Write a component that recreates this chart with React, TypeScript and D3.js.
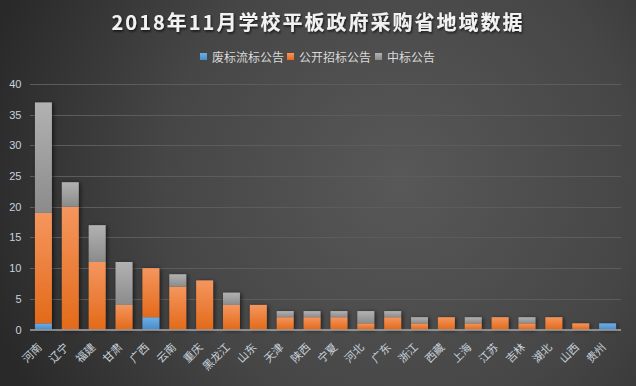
import React from 'react';
import * as d3 from 'd3';

const provinces = ['河南', '辽宁', '福建', '甘肃', '广西', '云南', '重庆', '黑龙江', '山东', '天津', '陕西', '宁夏', '河北', '广东', '浙江', '西藏', '上海', '江苏', '吉林', '湖北', '山西', '贵州'];
const abandoned = [1, 0, 0, 0, 2, 0, 0, 0, 0, 0, 0, 0, 0, 0, 0, 0, 0, 0, 0, 0, 0, 1];
const openTender = [18, 20, 11, 4, 8, 7, 8, 4, 4, 2, 2, 2, 1, 2, 1, 2, 1, 2, 1, 2, 1, 0];
const awarded = [18, 4, 6, 7, 0, 2, 0, 2, 0, 1, 1, 1, 2, 1, 1, 0, 1, 0, 1, 0, 0, 0];
const seriesKeys = ['abandoned', 'openTender', 'awarded'];
const seriesNames = ['废标流标公告', '公开招标公告', '中标公告'];
const yTicks = [0, 5, 10, 15, 20, 25, 30, 35, 40];
const title = '2018年11月学校平板政府采购省地域数据';

const W = 636;
const H = 386;
const CJK = '"Noto Sans CJK SC", "Noto Sans", sans-serif';

const gradStops: Record<string, [string, string]> = {
  abandoned: ['#6eaee6', '#4a8bcb'],
  openTender: ['#f5965e', '#e36a1a'],
  awarded: ['#b2b2b2', '#8b8b8b'],
};

export default function App() {
  const rows = provinces.map((p, i) => ({
    name: p,
    abandoned: abandoned[i],
    openTender: openTender[i],
    awarded: awarded[i],
  }));
  const stacked = d3.stack<any>().keys(seriesKeys)(rows);

  const x = d3.scaleBand<string>().domain(provinces).range([30, 621]).paddingInner(0.37).paddingOuter(0.185);
  const y = d3.scaleLinear().domain([0, 40]).range([329.5, 84]);

  const legendX = [200, 287, 375];

  return (
    <svg width={W} height={H} style={{ position: 'absolute', left: 0, top: 0 }}>
      <defs>
        <radialGradient id="bg" gradientUnits="userSpaceOnUse" cx={400} cy={180} r={430}>
          <stop offset="0" stopColor="#585858" />
          <stop offset="0.55" stopColor="#464646" />
          <stop offset="1" stopColor="#292929" />
        </radialGradient>
        {seriesKeys.map((k) => (
          <linearGradient key={k} id={`g-${k}`} x1="0" y1="0" x2="0" y2="1">
            <stop offset="0" stopColor={gradStops[k][0]} />
            <stop offset="1" stopColor={gradStops[k][1]} />
          </linearGradient>
        ))}
        <filter id="barShadow" x="-50%" y="-20%" width="200%" height="140%">
          <feDropShadow dx="1.5" dy="1" stdDeviation="2" floodColor="#000" floodOpacity="0.6" />
        </filter>
        <filter id="titleShadow" x="-10%" y="-50%" width="120%" height="200%">
          <feDropShadow dx="1" dy="1.5" stdDeviation="1.2" floodColor="#000" floodOpacity="0.7" />
        </filter>
      </defs>
      <rect x={0} y={0} width={W} height={H} fill="url(#bg)" />

      <text
        x={W / 2 - 1}
        y={30}
        textAnchor="middle"
        fontFamily={CJK}
        fontWeight="bold"
        fontSize={20}
        fill="#f2f2f2"
        textLength={411}
        lengthAdjust="spacing"
        filter="url(#titleShadow)"
      >
        {title}
      </text>

      {seriesNames.map((n, i) => (
        <g key={n}>
          <rect x={legendX[i]} y={53} width={7} height={7} fill={`url(#g-${seriesKeys[i]})`} />
          <text x={legendX[i] + 12} y={61.5} fontFamily={CJK} fontSize={12} fill="#d9d9d9">
            {n}
          </text>
        </g>
      ))}

      {yTicks.map((t) =>
        t === 0 ? null : (
          <line key={`g${t}`} x1={30} x2={621} y1={Math.round(y(t)) + 0.5} y2={Math.round(y(t)) + 0.5} stroke="#5c5c5c" strokeWidth={1} />
        )
      )}
      {yTicks.map((t) => (
        <text
          key={`yl${t}`}
          x={21.5}
          y={y(t) + 4}
          textAnchor="end"
          fontFamily='"Liberation Sans", "Noto Sans", sans-serif'
          fontSize={11}
          fill="#c8d2dc"
        >
          {t}
        </text>
      ))}

      <g filter="url(#barShadow)">
        {stacked.map((s) =>
          s.map((d: any, i: number) => {
            const h = y(d[0]) - y(d[1]);
            if (h <= 0) return null;
            return (
              <rect
                key={`${s.key}-${i}`}
                x={x(provinces[i])}
                y={y(d[1])}
                width={x.bandwidth()}
                height={h}
                fill={`url(#g-${s.key})`}
              />
            );
          })
        )}
      </g>

      <line x1={30} x2={621} y1={330} y2={330} stroke="#a6a6a6" strokeWidth={1.5} />

      {provinces.map((p) => {
        const cx = (x(p) as number) + x.bandwidth() / 2;
        return (
          <text
            key={`xl${p}`}
            transform={`translate(${cx - 1},${348}) rotate(-45)`}
            textAnchor="end"
            fontFamily={CJK}
            fontSize={11}
            fill="#c8d2dc"
          >
            {p}
          </text>
        );
      })}
    </svg>
  );
}
